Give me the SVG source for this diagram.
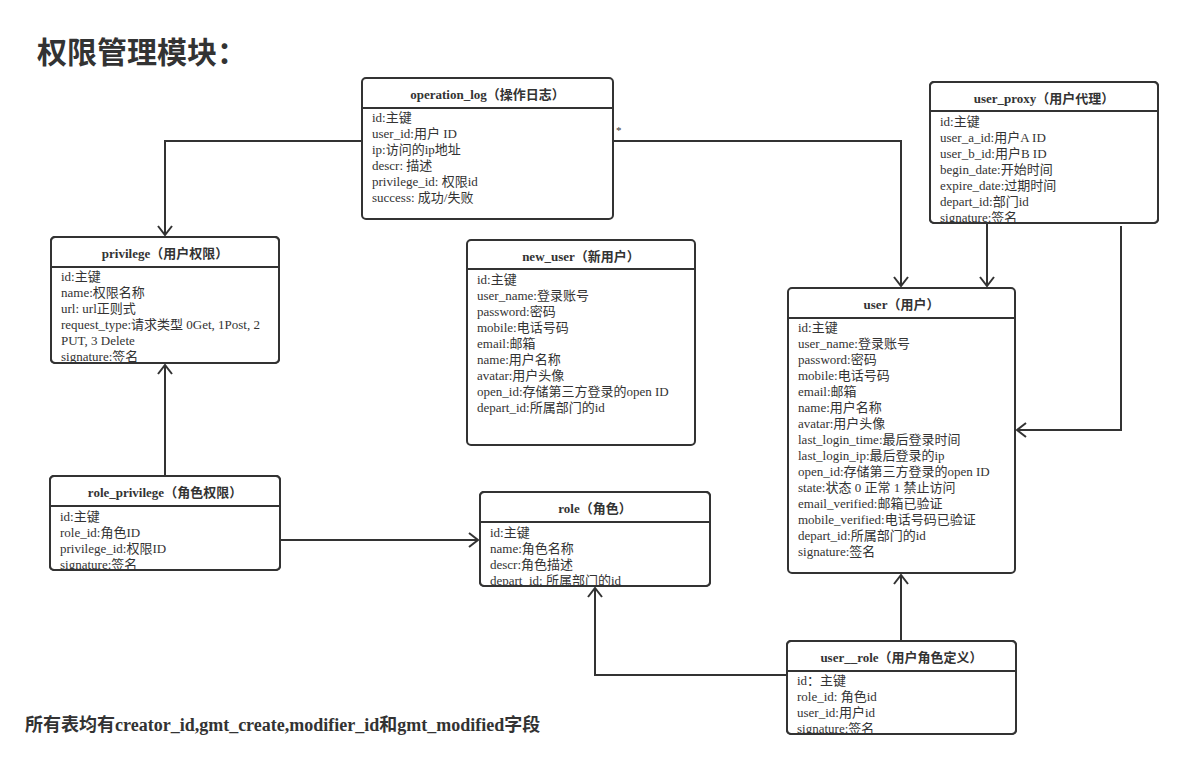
<svg xmlns="http://www.w3.org/2000/svg" width="1183" height="775" viewBox="0 0 1183 775">
<style>
.box{fill:#fff;stroke:#333;stroke-width:2}
.sep{stroke:#333;stroke-width:2}
.hd{font-family:"Liberation Serif","Noto Sans CJK SC",serif;font-size:13px;font-weight:bold;fill:#333;text-anchor:middle}
.row{font-family:"Liberation Serif","Noto Sans CJK SC",serif;font-size:13px;fill:#333}
.conn{fill:none;stroke:#333;stroke-width:2}
.title{font-family:"Noto Sans CJK SC","Liberation Sans",sans-serif;font-size:30px;font-weight:bold;fill:#333}
.foot{font-family:"Liberation Serif","Noto Sans CJK SC",serif;font-size:18px;font-weight:bold;fill:#333}
</style>
<defs>
<marker id="arr" markerUnits="userSpaceOnUse" viewBox="0 0 11 16" refX="10" refY="8" markerWidth="11" markerHeight="16" orient="auto">
<path d="M1,1 L10,8 L1,15" fill="none" stroke="#333" stroke-width="2"/>
</marker>
<clipPath id="c-op"><rect x="362" y="78" width="251" height="141" rx="4"/></clipPath>
<clipPath id="c-up"><rect x="930" y="82" width="228" height="141" rx="4"/></clipPath>
<clipPath id="c-pr"><rect x="51" y="237" width="228" height="126" rx="4"/></clipPath>
<clipPath id="c-nu"><rect x="467" y="240" width="228" height="205" rx="4"/></clipPath>
<clipPath id="c-us"><rect x="788" y="288" width="227" height="285" rx="4"/></clipPath>
<clipPath id="c-rp"><rect x="50" y="476" width="230" height="94" rx="4"/></clipPath>
<clipPath id="c-ro"><rect x="480" y="492" width="230" height="94" rx="4"/></clipPath>
<clipPath id="c-ur"><rect x="787" y="641" width="229" height="93" rx="4"/></clipPath>
</defs>
<rect width="1183" height="775" fill="#fff"/>

<text class="title" x="37" y="63">权限管理模块：</text>
<text class="foot" x="25" y="731">所有表均有creator_id,gmt_create,modifier_id和gmt_modified字段</text>

<g id="connectors">
<path class="conn" d="M362,141 L165,141 L165,235" marker-end="url(#arr)"/>
<path class="conn" d="M613,141 L901,141 L901,286" marker-end="url(#arr)"/>
<text x="616" y="134" style="font-family:'Liberation Serif',serif;font-size:11px;fill:#333">*</text>
<path class="conn" d="M987,223 L987,286" marker-end="url(#arr)"/>
<path class="conn" d="M1121,226 L1121,430 L1017,430" marker-end="url(#arr)"/>
<path class="conn" d="M165,476 L165,365" marker-end="url(#arr)"/>
<path class="conn" d="M280,540 L478,540" marker-end="url(#arr)"/>
<path class="conn" d="M787,675 L595,675 L595,588" marker-end="url(#arr)"/>
<path class="conn" d="M901,641 L901,575" marker-end="url(#arr)"/>
</g>

<g id="operation_log">
<rect class="box" x="362" y="78" width="251" height="141" rx="4"/>
<line class="sep" x1="362" y1="108" x2="613" y2="108"/>
<text class="hd" x="487.5" y="99">operation_log（操作日志）</text>
<g clip-path="url(#c-op)">
<text class="row" x="372" y="122">id:主键</text>
<text class="row" x="372" y="138">user_id:用户 ID</text>
<text class="row" x="372" y="154">ip:访问的ip地址</text>
<text class="row" x="372" y="170">descr: 描述</text>
<text class="row" x="372" y="186">privilege_id: 权限id</text>
<text class="row" x="372" y="202">success: 成功/失败</text>
</g>
</g>

<g id="user_proxy">
<rect class="box" x="930" y="82" width="228" height="141" rx="4"/>
<line class="sep" x1="930" y1="111" x2="1158" y2="111"/>
<text class="hd" x="1044" y="103">user_proxy（用户代理）</text>
<g clip-path="url(#c-up)">
<text class="row" x="940" y="126">id:主键</text>
<text class="row" x="940" y="142">user_a_id:用户A ID</text>
<text class="row" x="940" y="158">user_b_id:用户B ID</text>
<text class="row" x="940" y="174">begin_date:开始时间</text>
<text class="row" x="940" y="190">expire_date:过期时间</text>
<text class="row" x="940" y="206">depart_id:部门id</text>
<text class="row" x="940" y="222">signature:签名</text>
</g>
<rect x="930" y="82" width="228" height="141" rx="4" fill="none" stroke="#333" stroke-width="2"/>
</g>

<g id="privilege">
<rect class="box" x="51" y="237" width="228" height="126" rx="4"/>
<line class="sep" x1="51" y1="267" x2="279" y2="267"/>
<text class="hd" x="165" y="258">privilege（用户权限）</text>
<g clip-path="url(#c-pr)">
<text class="row" x="61" y="281">id:主键</text>
<text class="row" x="61" y="297">name:权限名称</text>
<text class="row" x="61" y="313">url: url正则式</text>
<text class="row" x="61" y="329">request_type:请求类型 0Get, 1Post, 2</text>
<text class="row" x="61" y="345">PUT, 3 Delete</text>
<text class="row" x="61" y="361">signature:签名</text>
</g>
<rect x="51" y="237" width="228" height="126" rx="4" fill="none" stroke="#333" stroke-width="2"/>
</g>

<g id="new_user">
<rect class="box" x="467" y="240" width="228" height="205" rx="4"/>
<line class="sep" x1="467" y1="269" x2="695" y2="269"/>
<text class="hd" x="581" y="261">new_user（新用户）</text>
<g clip-path="url(#c-nu)">
<text class="row" x="477" y="284">id:主键</text>
<text class="row" x="477" y="300">user_name:登录账号</text>
<text class="row" x="477" y="316">password:密码</text>
<text class="row" x="477" y="332">mobile:电话号码</text>
<text class="row" x="477" y="348">email:邮箱</text>
<text class="row" x="477" y="364">name:用户名称</text>
<text class="row" x="477" y="380">avatar:用户头像</text>
<text class="row" x="477" y="396">open_id:存储第三方登录的open ID</text>
<text class="row" x="477" y="412">depart_id:所属部门的id</text>
</g>
</g>

<g id="user">
<rect class="box" x="788" y="288" width="227" height="285" rx="4"/>
<line class="sep" x1="788" y1="318" x2="1015" y2="318"/>
<text class="hd" x="901.5" y="309">user（用户）</text>
<g clip-path="url(#c-us)">
<text class="row" x="798" y="332">id:主键</text>
<text class="row" x="798" y="348">user_name:登录账号</text>
<text class="row" x="798" y="364">password:密码</text>
<text class="row" x="798" y="380">mobile:电话号码</text>
<text class="row" x="798" y="396">email:邮箱</text>
<text class="row" x="798" y="412">name:用户名称</text>
<text class="row" x="798" y="428">avatar:用户头像</text>
<text class="row" x="798" y="444">last_login_time:最后登录时间</text>
<text class="row" x="798" y="460">last_login_ip:最后登录的ip</text>
<text class="row" x="798" y="476">open_id:存储第三方登录的open ID</text>
<text class="row" x="798" y="492">state:状态 0 正常 1 禁止访问</text>
<text class="row" x="798" y="508">email_verified:邮箱已验证</text>
<text class="row" x="798" y="524">mobile_verified:电话号码已验证</text>
<text class="row" x="798" y="540">depart_id:所属部门的id</text>
<text class="row" x="798" y="556">signature:签名</text>
</g>
</g>

<g id="role_privilege">
<rect class="box" x="50" y="476" width="230" height="94" rx="4"/>
<line class="sep" x1="50" y1="506" x2="280" y2="506"/>
<text class="hd" x="165" y="497">role_privilege（角色权限）</text>
<g clip-path="url(#c-rp)">
<text class="row" x="60" y="521">id:主键</text>
<text class="row" x="60" y="537">role_id:角色ID</text>
<text class="row" x="60" y="553">privilege_id:权限ID</text>
<text class="row" x="60" y="569">signature:签名</text>
</g>
<rect x="50" y="476" width="230" height="94" rx="4" fill="none" stroke="#333" stroke-width="2"/>
</g>

<g id="role">
<rect class="box" x="480" y="492" width="230" height="94" rx="4"/>
<line class="sep" x1="480" y1="522" x2="710" y2="522"/>
<text class="hd" x="595" y="513">role（角色）</text>
<g clip-path="url(#c-ro)">
<text class="row" x="490" y="537">id:主键</text>
<text class="row" x="490" y="553">name:角色名称</text>
<text class="row" x="490" y="569">descr:角色描述</text>
<text class="row" x="490" y="585">depart_id: 所属部门的id</text>
</g>
<rect x="480" y="492" width="230" height="94" rx="4" fill="none" stroke="#333" stroke-width="2"/>
</g>

<g id="user__role">
<rect class="box" x="787" y="641" width="229" height="93" rx="4"/>
<line class="sep" x1="787" y1="671" x2="1016" y2="671"/>
<text class="hd" x="901.5" y="662">user__role（用户角色定义）</text>
<g clip-path="url(#c-ur)">
<text class="row" x="797" y="685">id：主键</text>
<text class="row" x="797" y="701">role_id: 角色id</text>
<text class="row" x="797" y="717">user_id:用户id</text>
<text class="row" x="797" y="733">signature:签名</text>
</g>
<rect x="787" y="641" width="229" height="93" rx="4" fill="none" stroke="#333" stroke-width="2"/>
</g>
</svg>
